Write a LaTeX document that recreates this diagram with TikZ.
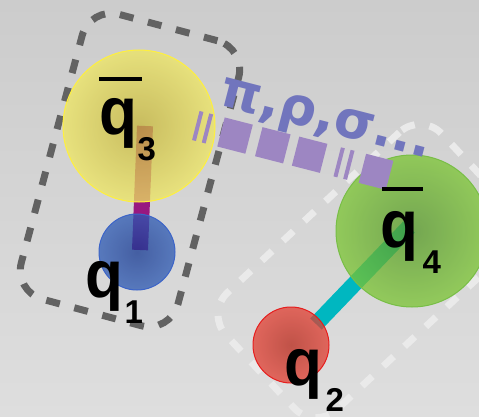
\documentclass[tikz,border=0pt]{standalone}
\usepackage{fontspec}
\setmainfont{Liberation Sans}
\newfontfamily\greekfont{DejaVu Sans}
\usetikzlibrary{calc}
\definecolor{bgtop}{RGB}{204,204,204}
\definecolor{bgbot}{RGB}{222,222,222}
\definecolor{rectdark}{RGB}{98,98,98}
\definecolor{rectlight}{RGB}{234,234,234}
\definecolor{barmag}{RGB}{152,24,128}
\definecolor{barcyan}{RGB}{0,183,192}
\definecolor{mesonpurple}{RGB}{157,134,194}
\definecolor{mesontext}{RGB}{113,117,189}
\definecolor{yin}{RGB}{197,181,57}
\definecolor{yout}{RGB}{239,231,97}
\definecolor{yedge}{RGB}{255,240,60}
\definecolor{bin}{RGB}{20,55,145}
\definecolor{bout}{RGB}{45,90,180}
\definecolor{bedge}{RGB}{60,100,200}
\definecolor{gin}{RGB}{83,150,37}
\definecolor{gout}{RGB}{123,197,50}
\definecolor{gedge}{RGB}{120,190,70}
\definecolor{rin}{RGB}{183,37,23}
\definecolor{rout}{RGB}{226,63,50}
\definecolor{redge}{RGB}{230,30,30}
\newcommand{\qbar}[3]{\makebox[0pt][l]{\hspace{#1}\raisebox{#2}{\rule{#3}{4pt}}}}
\newcommand{\qq}{\scalebox{1}[1.08]{q}}
\newcommand{\qsub}[2]{\kern#1\raisebox{-26pt}{\fontsize{33}{33}\selectfont #2}}
\begin{document}
\begin{tikzpicture}[x=1pt,y=-1pt,
  grp/.style={rectangle, rounded corners=30pt, line width=7pt,
    dash pattern=on 14pt off 15pt, minimum width=162pt, minimum height=295pt, inner sep=0pt},
  darkgrp/.style={grp, draw=rectdark},
  lightgrp/.style={grp, draw=rectlight, minimum width=295pt, minimum height=160pt},
  ball/.style={circle, inner sep=0pt, fill opacity=0.75, line width=1pt, shading=radial},
  bar/.style={line width=16pt},
  meson/.style={line width=30pt, draw=mesonpurple,
    dash pattern=on 4pt off 6pt on 4pt off 12pt on 29pt off 10pt on 29pt off 9pt on 29pt off 14pt},
  lab/.style={inner sep=0pt, anchor=base west, font=\bfseries\fontsize{62}{62}\selectfont, text=black},
  greek/.style={inner sep=0pt, anchor=base west, text=mesontext,
    font=\greekfont\bfseries\fontsize{52}{52}\selectfont}
]
\useasboundingbox (0,0) rectangle (479,417);
\clip (0,0) rectangle (479,417);
\shade[top color=bgtop, bottom color=bgbot] (0,0) rectangle (479,417);
% groups
\node[darkgrp, rotate=-15] (g1) at (130,170) {};
\node[lightgrp, rotate=43] (g2) at (368,271) {};
% bars
\coordinate (b3) at (145,126);
\coordinate (b1) at (140,250);
\coordinate (c2) at (316,324);
\coordinate (c4) at (409,227);
\draw[bar, draw=barmag] (b3) -- (b1);
\draw[bar, draw=barcyan] (c2) -- (c4);
% quarks
\node[ball, minimum size=152pt, draw=yedge, inner color=yin, outer color=yout] (y3) at (139,126) {};
\node[ball, minimum size=76pt, draw=bedge, inner color=bin, outer color=bout] (q1) at (137,252) {};
\node[ball, minimum size=152pt, draw=gedge, inner color=gin, outer color=gout] (q4) at (412,231) {};
\node[ball, minimum size=76pt, draw=redge, inner color=rin, outer color=rout] (q2) at (291,345) {};
% meson exchange
\coordinate (m0) at (195.8,125.5);
\coordinate (m1) at (389.6,175.3);
\draw[meson] (m0) -- (m1);
\node[greek, rotate=-14.5] (mes) at (217,104) {π,ρ,σ...};
% labels
\node[lab] (l3) at (99.5,135) {\qbar{-0.5pt}{54pt}{43pt}\qq\qsub{0pt}{3}};
\node[lab] (l1) at (85.5,297) {\qq\qsub{1pt}{1}};
\node[lab] (l4) at (380.5,247) {\qbar{1.5pt}{56pt}{41pt}\qq\qsub{4pt}{4}};
\node[lab] (l2) at (284.5,385) {\qq\qsub{3pt}{2}};
\end{tikzpicture}
\end{document}
